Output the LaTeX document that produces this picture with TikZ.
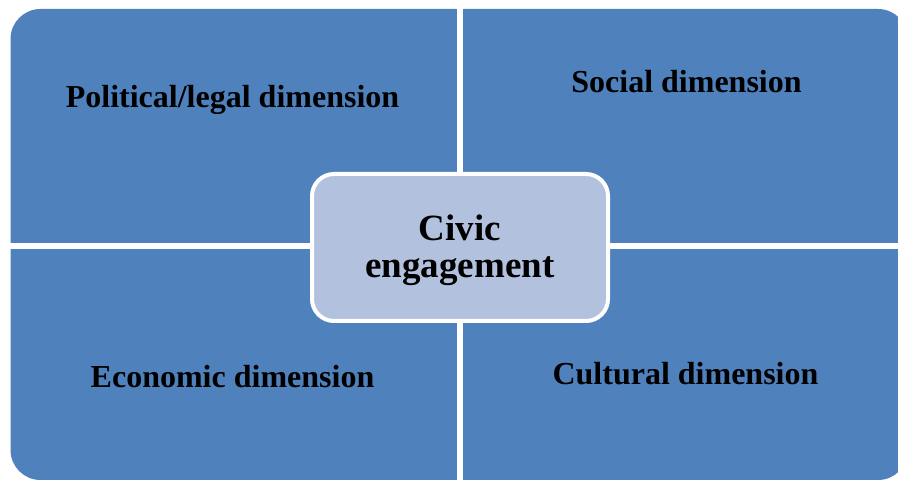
\documentclass[tikz,border=0pt]{standalone}
\usepackage{fontspec}
\setmainfont{Liberation Serif}
\definecolor{quadblue}{RGB}{79,129,189}
\definecolor{centerblue}{RGB}{177,193,222}
\begin{document}
\begin{tikzpicture}[x=1pt,y=1pt,
  dimlabel/.style={anchor=base,inner sep=0pt,font=\fontsize{32}{38}\selectfont\bfseries,text=black},
  centerbox/.style={draw=white,line width=4pt,fill=centerblue,rounded corners=22pt,
    minimum width=296pt,minimum height=147pt,inner sep=0pt,align=center,
    font=\fontsize{37}{37}\selectfont\bfseries,text=black}]
\useasboundingbox (0,0) rectangle (898,481);
\begin{scope}
\clip (0,0) rectangle (898,481);
% outer rounded shape forming the four quadrants
\fill[quadblue,rounded corners=30pt] (10.5,1) rectangle (908,472);
% white gaps separating the quadrants
\fill[white] (457.3,0) rectangle (462.7,481);
\fill[white] (0,232) rectangle (908,237.5);
\end{scope}
% labels
\node[dimlabel] (pol) at (232.5,373.5) {Political/legal dimension};
\node[dimlabel] (soc) at (686.5,388.5) {Social dimension};
\node[dimlabel] (eco) at (232.5,93.5) {Economic dimension};
\node[dimlabel] (cul) at (685.5,96) {Cultural dimension};
% center
\node[centerbox] (civic) at (460,233.5) {\rule{0pt}{32pt}Civic\\engagement};
\end{tikzpicture}
\end{document}
